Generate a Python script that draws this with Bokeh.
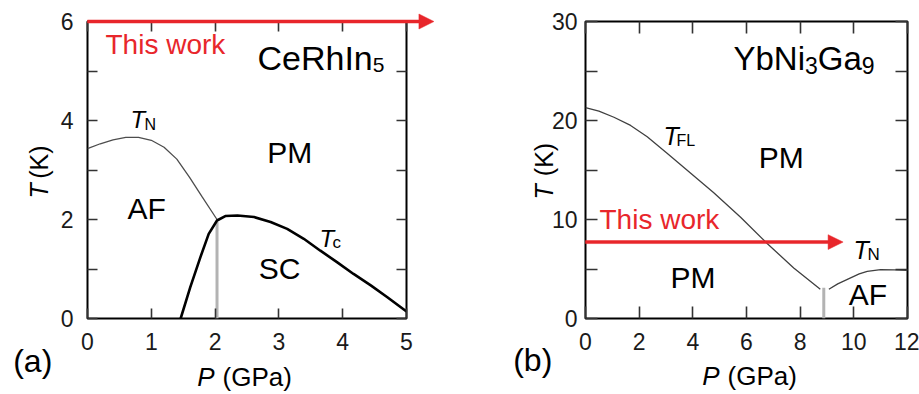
import math
from bokeh.plotting import figure
from bokeh.models import Range1d, FixedTicker, LinearAxis
from bokeh.core.properties import value
from bokeh.layouts import row
from bokeh.embed import file_html
from bokeh.resources import INLINE

FONT = "Liberation Sans"
RED = "#e8262b"

# ---------------- data: panel (a) CeRhIn5 ----------------
a_tn_p = [0.0, 0.2, 0.4, 0.6, 0.8, 1.0, 1.2, 1.4, 1.6, 1.8, 2.03]
a_tn_t = [3.43, 3.53, 3.61, 3.66, 3.66, 3.60, 3.46, 3.22, 2.85, 2.45, 2.0]
a_tc_p = [1.46, 1.61, 1.77, 1.90, 2.03, 2.16, 2.35, 2.61, 2.87, 3.13, 3.39, 3.65, 3.91, 4.17, 4.44, 4.70, 5.0]
a_tc_t = [0.0, 0.63, 1.24, 1.71, 1.98, 2.07, 2.08, 2.05, 1.95, 1.81, 1.61, 1.37, 1.14, 0.90, 0.67, 0.43, 0.14]
a_gray_p = [2.03, 2.03]
a_gray_t = [0.0, 1.95]
a_arrow_p = [0.0, 5.43]
a_arrow_t = [6.0, 6.0]
a_xticks = [0, 1, 2, 3, 4, 5]
a_yticks = [0, 2, 4, 6]
a_yminor = [1, 3, 5]

# ---------------- data: panel (b) YbNi3Ga9 ----------------
b_tfl_p = [0.0, 0.5, 1.06, 1.68, 2.30, 3.04, 3.91, 4.78, 5.78, 6.77, 7.76, 8.75]
b_tfl_t = [21.3, 20.95, 20.33, 19.5, 18.35, 16.69, 14.7, 12.71, 10.23, 7.58, 5.10, 2.95]
b_tn_p = [9.07, 9.4, 9.88, 10.2, 10.5, 11.0, 11.5, 12.0]
b_tn_t = [2.95, 3.5, 4.1, 4.5, 4.77, 4.94, 4.92, 4.87]
b_gray_p = [8.88, 8.88]
b_gray_t = [0.0, 3.1]
b_arrow_p = [0.0, 9.6]
b_arrow_t = [7.72, 7.72]
b_xticks = [0, 2, 4, 6, 8, 10, 12]
b_yticks = [0, 10, 20, 30]
b_yminor = [5, 15, 25]


def make_fig(w, h, bl, br, bt, bb, xr, yr, xt, yt, ym, tick_len, ystand):
    p = figure(width=w, height=h, output_backend="svg", toolbar_location=None,
               x_range=Range1d(*xr), y_range=Range1d(*yr),
               min_border_left=bl, min_border_right=br,
               min_border_top=bt, min_border_bottom=bb)
    p.grid.visible = False
    p.outline_line_color = "black"
    p.outline_line_width = 2
    p.outline_line_alpha = 1
    p.background_fill_color = "white"
    p.border_fill_color = "white"

    def style(ax, show_labels, standoff):
        ax.axis_line_color = None
        ax.major_tick_in = tick_len
        ax.major_tick_out = 0
        ax.minor_tick_in = tick_len
        ax.minor_tick_out = 0
        ax.major_tick_line_color = "#333333"
        ax.minor_tick_line_color = "#333333"
        ax.major_tick_line_width = 1.6
        ax.minor_tick_line_width = 1.6
        if show_labels:
            ax.major_label_text_font = FONT
            ax.major_label_text_font_size = "23px"
            ax.major_label_text_color = "#1a1a1a"
            ax.major_label_standoff = standoff
        else:
            ax.major_label_text_alpha = 0
            ax.major_label_text_font_size = "1px"
            ax.major_label_standoff = 0

    p.xaxis.ticker = FixedTicker(ticks=xt)
    p.yaxis.ticker = FixedTicker(ticks=yt, minor_ticks=ym)
    style(p.xaxis[0], True, 14)
    style(p.yaxis[0], True, ystand)
    top = LinearAxis(ticker=FixedTicker(ticks=xt))
    right = LinearAxis(ticker=FixedTicker(ticks=yt, minor_ticks=ym))
    style(top, False, 0)
    style(right, False, 0)
    p.add_layout(top, "above")
    p.add_layout(right, "right")
    return p


# panel (a): frame x 87..406, y 21..318
pa = make_fig(470, 394, 87, 64, 21, 76, (0, 5), (0, 6), a_xticks, a_yticks, a_yminor, 10, 14)
# panel (b): frame x 585..907, y 16..318
pb = make_fig(449, 394, 115, 12, 16, 76, (0, 12), (0, 30), b_xticks, b_yticks, b_yminor, 12, 8)

PXU_A, PYU_A = 319 / 5, 297 / 6      # px per unit, panel a
PXU_B, PYU_B = 322 / 12, 302 / 30    # px per unit, panel b

pa.line(a_tn_p, a_tn_t, line_color="#4d4d4d", line_width=1.3)
pa.line(a_gray_p, a_gray_t, line_color="#b3b3b3", line_width=3)
pa.line(a_tc_p, a_tc_t, line_color="black", line_width=2.6)

pb.line(b_tfl_p, b_tfl_t, line_color="#404040", line_width=1.3)
pb.line(b_tn_p, b_tn_t, line_color="#404040", line_width=1.3)
pb.line(b_gray_p, b_gray_t, line_color="#b3b3b3", line_width=3)

# red arrows ("This work") as one polygon each (shaft + head), overlay level so it may pass the frame
HEAD_L, HEAD_W, SHAFT_W = 15, 15, 3
for p, ap, at, pxu, pyu in ((pa, a_arrow_p, a_arrow_t, PXU_A, PYU_A),
                            (pb, b_arrow_p, b_arrow_t, PXU_B, PYU_B)):
    xb = ap[1] - HEAD_L / pxu
    d1 = SHAFT_W / 2 / pyu
    d2 = HEAD_W / 2 / pyu
    t = at[1]
    p.patch(x=[ap[0], xb, xb, ap[1], xb, xb, ap[0]],
            y=[t - d1, t - d1, t - d2, t, t + d2, t + d1, t + d1],
            fill_color=RED, line_color=RED, line_width=0.5, level="overlay")


# pixel -> data helpers (global page pixels)
def conv_a(px, py):
    return (px - 87) / PXU_A, (318 - py) / PYU_A


def conv_b(px, py):
    return (px - 585) / PXU_B, (318 - py) / PYU_B


BASE_FIX = 0.38   # em fraction by which the rendered baseline sits below the anchor


def txt(p, conv, px, py, text, size, color="black", style="normal", angle=0.0, dx=0.0, dy=0.0):
    x, y = conv(px, py)
    if angle:
        dx -= BASE_FIX * size
    else:
        dy -= BASE_FIX * size
    p.text(x=[x], y=[y], text=[text], text_font=value(FONT), text_font_size=value(f"{size}px"),
           text_color=color, text_font_style=style, text_align="left",
           text_baseline="alphabetic", angle=angle, x_offset=dx, y_offset=dy, level="overlay")


# panel (a) texts
txt(pa, conv_a, 105, 54.3, "This work", 28, RED)
txt(pa, conv_a, 257, 70, "CeRhIn", 34)
txt(pa, conv_a, 257, 70, "5", 21, dx=34 * 3.39, dy=2.5)
txt(pa, conv_a, 266.7, 163.3, "PM", 30)
txt(pa, conv_a, 127, 219, "AF", 30)
txt(pa, conv_a, 258.3, 279, "SC", 30)
txt(pa, conv_a, 130, 128.5, "T", 24, style="italic")
txt(pa, conv_a, 144, 130.5, "N", 16)
txt(pa, conv_a, 319, 246.7, "T", 24, style="italic")
txt(pa, conv_a, 332, 248, "c", 17)
txt(pa, conv_a, 12.7, 373, "(a)", 32)
txt(pa, conv_a, 196.7, 386.7, "P", 26, style="italic")
txt(pa, conv_a, 222, 386.7, "(GPa)", 26)
txt(pa, conv_a, 47.5, 198, "T", 25, style="italic", angle=math.pi / 2)
txt(pa, conv_a, 47.5, 178.3, "(K)", 25, angle=math.pi / 2)

# panel (b) texts
txt(pb, conv_b, 733, 66, "YbNi", 33)
txt(pb, conv_b, 733, 66, "3", 23, dx=33 * 2.167, dy=3.5)
txt(pb, conv_b, 733, 66, "Ga", 33, dx=33 * 2.167 + 23 * 0.556)
txt(pb, conv_b, 733, 66, "9", 23, dx=33 * 2.167 + 23 * 0.556 + 33 * 1.334, dy=3.5)
txt(pb, conv_b, 758.3, 165.7, "PM", 30)
txt(pb, conv_b, 663, 141.7, "T", 25, style="italic")
txt(pb, conv_b, 676, 143.5, "FL", 16)
txt(pb, conv_b, 599, 227.7, "This work", 28, RED)
txt(pb, conv_b, 853, 258, "T", 25, style="italic")
txt(pb, conv_b, 867, 259.5, "N", 17)
txt(pb, conv_b, 670, 288, "PM", 30)
txt(pb, conv_b, 848.3, 305, "AF", 30)
txt(pb, conv_b, 512.7, 373, "(b)", 32)
txt(pb, conv_b, 701.7, 386.7, "P", 26, style="italic")
txt(pb, conv_b, 727, 386.7, "(GPa)", 26)
txt(pb, conv_b, 553, 197, "T", 25, style="italic", angle=math.pi / 2)
txt(pb, conv_b, 553, 173.3, "(K)", 25, angle=math.pi / 2)

layout = row(pa, pb)
open("out.html", "w").write(file_html(layout, INLINE))
